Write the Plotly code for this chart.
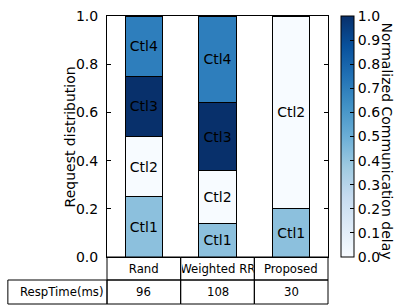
import plotly.graph_objects as go

# ---------------- data ----------------
categories = ["Rand", "Weighted RR", "Proposed"]
controllers = ["Ctl1", "Ctl2", "Ctl3", "Ctl4"]
ctl1_share = [0.25, 0.14, 0.20]
ctl2_share = [0.25, 0.22, 0.80]
ctl3_share = [0.25, 0.28, 0.00]
ctl4_share = [0.25, 0.36, 0.00]
ctl_delay = [0.42, 0.0, 1.0, 0.70]  # normalized communication delay per controller
resp_label = "RespTime(ms)"
resp_times = [96, 108, 30]
ytick_vals = [0.0, 0.2, 0.4, 0.6, 0.8, 1.0]
cbar_ticks = [0.0, 0.1, 0.2, 0.3, 0.4, 0.5, 0.6, 0.7, 0.8, 0.9, 1.0]

shares = [ctl1_share, ctl2_share, ctl3_share, ctl4_share]

blues = [
    [0.0, "#f7fbff"], [0.125, "#deebf7"], [0.25, "#c6dbef"], [0.375, "#9ecae1"],
    [0.5, "#6baed6"], [0.625, "#4292c6"], [0.75, "#2171b5"], [0.875, "#08519c"],
    [1.0, "#08306b"],
]

FONT = "DejaVu Sans"
W, H = 394, 305
L, R, T, B = 107, 327.7, 16, 257  # plot area in pixels


def xp(px):
    return (px - L) / (R - L)


def yp(py):
    return (B - py) / (B - T)


fig = go.Figure()
for k, (name, vals) in enumerate(zip(controllers, shares)):
    fig.add_trace(go.Bar(
        x=categories,
        y=vals,
        name=name,
        width=0.51,
        text=[name if v > 0 else "" for v in vals],
        textposition="inside",
        insidetextanchor="middle",
        textangle=0,
        textfont=dict(family=FONT, size=14, color="black"),
        marker=dict(
            color=[ctl_delay[k]] * len(vals),
            colorscale=blues,
            cmin=0, cmax=1,
            line=dict(color="black", width=1),
            showscale=(k == 0),
            colorbar=dict(
                x=xp(341), xanchor="left", xref="paper",
                y=0.5, yanchor="middle", len=1, lenmode="fraction",
                thickness=12.5, xpad=0, ypad=0,
                outlinecolor="black", outlinewidth=1,
                tickvals=cbar_ticks, tickformat=".1f",
                ticks="inside", ticklen=4, tickcolor="black",
                tickfont=dict(family=FONT, size=14, color="black"),
            ),
        ),
        showlegend=False,
        hoverinfo="skip",
    ))

fig.update_layout(
    width=W, height=H,
    margin=dict(l=L, r=W - R, t=T, b=H - B, autoexpand=False),
    barmode="stack",
    plot_bgcolor="white", paper_bgcolor="white",
    font=dict(family=FONT, size=14, color="black"),
    uniformtext=dict(minsize=14, mode="show"),
    xaxis=dict(
        range=[-0.5, 2.5], showticklabels=False, ticks="",
        showline=True, mirror=True, linecolor="black", linewidth=1,
        showgrid=False, zeroline=False, automargin=False,
    ),
    yaxis=dict(
        range=[0, 1], tickvals=ytick_vals, tickformat=".1f",
        ticks="inside", ticklen=4, tickcolor="black",
        showline=True, mirror="ticks", linecolor="black", linewidth=1,
        showgrid=False, zeroline=False, ticklabelstandoff=5, automargin=False,
        tickfont=dict(family=FONT, size=14, color="black"),
    ),
)

# y-axis label
fig.add_annotation(
    text="Request distribution", xref="paper", yref="paper",
    x=xp(70), y=0.5, xanchor="center", yanchor="middle",
    textangle=-90, showarrow=False,
    font=dict(family=FONT, size=14, color="black"),
)
# colorbar label
fig.add_annotation(
    text="Normalized Communication delay", xref="paper", yref="paper",
    x=xp(387), y=yp(141), xanchor="center", yanchor="middle",
    textangle=90, showarrow=False,
    font=dict(family=FONT, size=14, color="black"),
)

# table below the axes
row1_top, row1_bot, row2_bot = 257, 280, 304
col_edges = [L, L + (R - L) / 3, L + 2 * (R - L) / 3, R]
for i in range(3):
    for (yt, yb) in [(row1_top, row1_bot), (row1_bot, row2_bot)]:
        fig.add_shape(
            type="rect", xref="paper", yref="paper",
            x0=xp(col_edges[i]), x1=xp(col_edges[i + 1]), y0=yp(yb), y1=yp(yt),
            line=dict(color="black", width=1), fillcolor="rgba(0,0,0,0)",
            layer="above",
        )
fig.add_shape(
    type="rect", xref="paper", yref="paper",
    x0=xp(8), x1=xp(L), y0=yp(row2_bot), y1=yp(row1_bot),
    line=dict(color="black", width=1), fillcolor="rgba(0,0,0,0)", layer="above",
)

TFS = 11.7
colw = (R - L) / 3
for cat, rt in zip(categories, resp_times):
    fig.add_annotation(
        text=cat, xref="x", yref="paper", x=cat, y=yp((row1_top + row1_bot) / 2),
        xanchor="center", yanchor="middle", showarrow=False, width=colw - 2,
        align="center", font=dict(family=FONT, size=TFS, color="black"),
    )
    fig.add_annotation(
        text=str(rt), xref="x", yref="paper", x=cat, y=yp((row1_bot + row2_bot) / 2),
        xanchor="center", yanchor="middle", showarrow=False,
        font=dict(family=FONT, size=TFS, color="black"),
    )
fig.add_annotation(
    text=resp_label, xref="paper", yref="paper", x=xp(18), y=yp((row1_bot + row2_bot) / 2),
    xanchor="left", yanchor="middle", showarrow=False,
    font=dict(family=FONT, size=TFS, color="black"),
)

fig.write_html(
    "out.html",
    config={"displayModeBar": False},
    post_script="document.body.style.margin='0px';document.body.style.overflow='hidden';",
)
